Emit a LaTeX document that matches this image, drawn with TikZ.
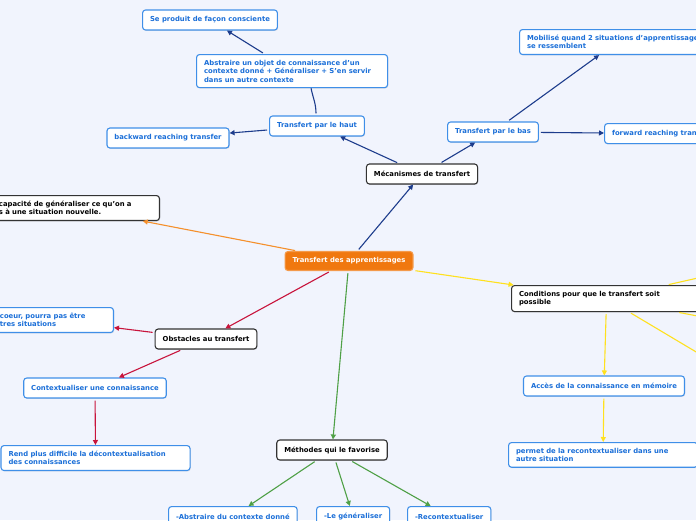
\documentclass[tikz,border=0pt]{standalone}
\usepackage{fontspec}
\setmainfont{DejaVu Sans}
\usetikzlibrary{arrows.meta,shadows}

\definecolor{bgblue}{HTML}{F1F4FD}
\definecolor{rootorange}{HTML}{F0780F}
\definecolor{leafblue}{HTML}{3F8FE8}
\definecolor{leaftext}{HTML}{1B6FD8}
\definecolor{topicgray}{HTML}{333333}
\definecolor{mecablue}{HTML}{1D3C8C}
\definecolor{obstred}{HTML}{C8143C}
\definecolor{methgreen}{HTML}{4FA046}
\definecolor{condyellow}{HTML}{FFE11E}
\definecolor{deforange}{HTML}{F5902C}

\begin{document}
\begin{tikzpicture}[
      x=1pt, y=-1pt,
      >={Triangle[length=5pt,width=5pt]},
      every node/.style={
        font=\fontsize{6.85}{8.4}\selectfont\bfseries,
        inner xsep=7.5pt,
        inner ysep=5.5pt,
        minimum height=20pt,
        rounded corners=3pt,
        line width=1.1pt
      },
      root/.style={
        fill=rootorange,
        draw=rootorange!75!white,
        text=white,
        minimum height=19pt
      },
      topic/.style={
        draw=topicgray,
        fill=white,
        text=black,
        drop shadow={shadow xshift=0.7pt, shadow yshift=-0.9pt, opacity=0.3}
      },
      leaf/.style={
        draw=leafblue,
        fill=white,
        text=leaftext,
        drop shadow={shadow xshift=0.7pt, shadow yshift=-0.9pt, opacity=0.2}
      },
      link/.style={
        ->,
        line width=1.1pt,
        shorten <=2pt
      },
      mecaline/.style={link, draw=mecablue},
      obstline/.style={link, draw=obstred},
      methline/.style={link, draw=methgreen},
      condline/.style={link, draw=condyellow},
      defline/.style={link, draw=deforange},
    ]

    \useasboundingbox (0,0) rectangle (696,520);
    \clip (0,0) rectangle (696,520);
    \fill [bgblue] (0,0) rectangle (696,520);

    \node [root] (root) at (349,261) {Transfert des apprentissages};

    \node [topic] (meca) at (422,174) {Mécanismes de transfert};
    \node [leaf] (haut) at (317,126) {Transfert par le haut};
    \node [leaf] (bas) at (493,132) {Transfert par le bas};
    \node [leaf] (backward) at (168,138) {backward reaching transfer};
    \node [leaf, text width=176pt, align=left, anchor=north west] (abstraire) at (196,54)
      {Abstraire un objet de connaissance d'un\\contexte donné + Généraliser + S'en servir\\dans un autre contexte};
    \node [leaf] (conscient) at (210,20) {Se produit de façon consciente};
    \node [leaf, text width=180pt, align=left, anchor=north west] (mobilise) at (519,29)
      {Mobilisé quand 2 situations d'apprentissage\\se ressemblent};
    \node [leaf, text width=110pt, align=left, anchor=north west] (forward) at (604,123) {forward reaching transfer};

    \node [topic, text width=153pt, align=left, anchor=north east] (definition) at (160,195)
      {capacité de généraliser ce qu'on a\\s à une situation nouvelle.};

    \node [topic] (obstacles) at (206,339) {Obstacles au transfert};
    \node [leaf, text width=106pt, align=left, anchor=north east] (coeur) at (114,307)
      {coeur, pourra pas être\\tres situations};
    \node [leaf] (context) at (95,388) {Contextualiser une connaissance};
    \node [leaf, text width=174pt, align=left, anchor=north west] (rend) at (0.5,445)
      {Rend plus difficile la décontextualisation\\des connaissances};

    \node [topic] (methodes) at (332,450) {Méthodes qui le favorise};
    \node [leaf, anchor=north west] (abs) at (168,506) {-Abstraire du contexte donné};
    \node [leaf, anchor=north west] (general) at (316,506) {-Le généraliser};
    \node [leaf, anchor=north west] (recontext) at (407,506) {-Recontextualiser};

    \node [topic, text width=175pt, align=left, anchor=north west] (conditions) at (511,285)
      {Conditions pour que le transfert soit\\possible};
    \node [leaf] (acces) at (604,386) {Accès de la connaissance en mémoire};
    \node [leaf, text width=174pt, align=left, anchor=north west] (permet) at (508,442)
      {permet de la recontextualiser dans une\\autre situation};

    \coordinate (condA) at (760,264);
    \coordinate (condB) at (760,328);
    \coordinate (condC) at (760,390);

    \draw [mecaline] (root) -- (meca);
    \draw [mecaline] (meca) -- (haut);
    \draw [mecaline] (meca) -- (bas);
    \draw [mecaline] (haut) -- (backward);
    \draw [mecaline, -] ([xshift=-1pt]haut.north) .. controls +(0,-12) and +(2,10) .. ([xshift=19pt]abstraire.south);
    \draw [mecaline] (abstraire) -- (conscient);
    \draw [mecaline] (bas) -- (mobilise);
    \draw [mecaline] (bas) -- (forward);

    \draw [defline] (root) -- (definition);

    \draw [obstline] (root) -- (obstacles);
    \draw [obstline] (obstacles) -- (coeur);
    \draw [obstline] (obstacles) -- (context);
    \draw [obstline] (context) -- (rend);

    \draw [methline] (root) -- (methodes);
    \draw [methline] (methodes) -- (abs);
    \draw [methline] (methodes) -- (general);
    \draw [methline] (methodes) -- (recontext);

    \draw [condline] (root) -- (conditions);
    \draw [condline] (conditions) -- (acces);
    \draw [condline] (acces) -- (permet);
    \draw [condline, -] (conditions) -- (condA);
    \draw [condline, -] (conditions) -- (condB);
    \draw [condline, -] (conditions) -- (condC);
  \end{tikzpicture}
\end{document}
